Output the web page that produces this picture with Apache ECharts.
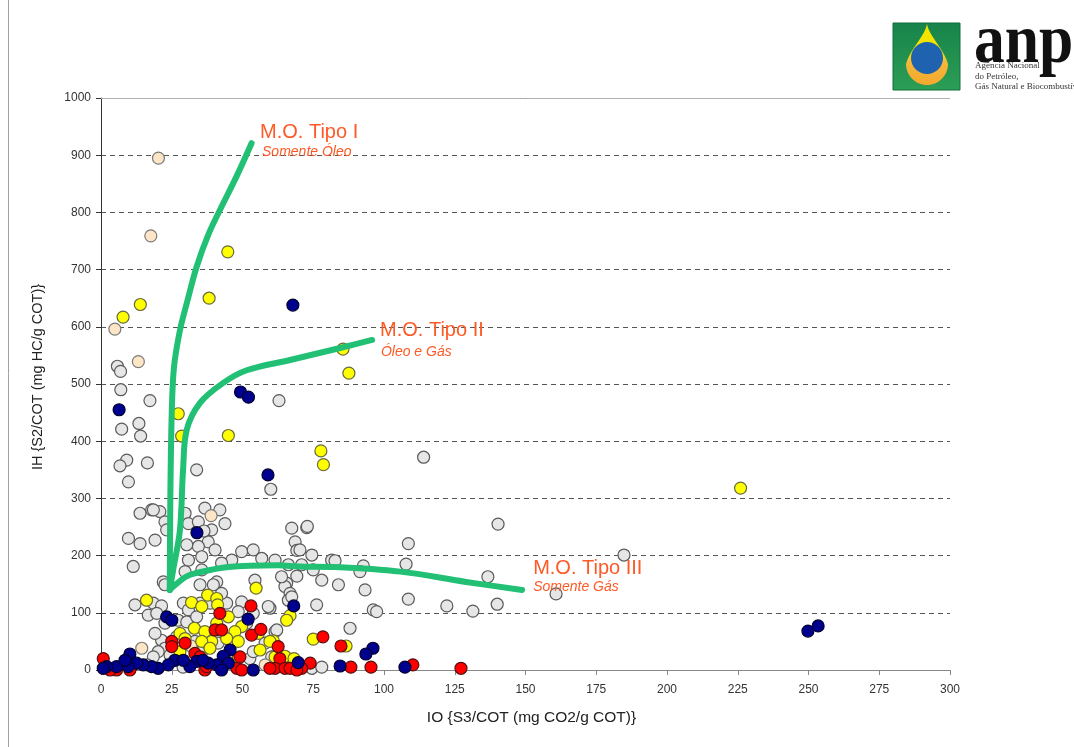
<!DOCTYPE html>
<html>
<head>
<meta charset="utf-8">
<script src="https://cdn.jsdelivr.net/npm/echarts@6.0.0/dist/echarts.min.js"></script>
<style>
  html, body { margin: 0; padding: 0; background: #ffffff; }
  #chart { width: 1074px; height: 747px; }
</style>
</head>
<body>
<div id="chart"></div>
<script>
// Pseudo Van Krevelen diagram: hydrogen index vs oxygen index

const xTicks = { min: 0, max: 300, step: 25 };
const yTicks = { min: 0, max: 1000, step: 100 };

const xTitle = 'IO {S3/COT (mg CO2/g COT)}';
const yTitle = 'IH {S2/COT (mg HC/g COT)}';

// kerogen type evolution paths
const tipoI = [[24.3,140],[24.5,300],[25,450],[25.8,530],[27.9,594],[30.3,641],[33.8,705],[38,762],[42.8,812],[47.9,863],[53.2,921]];
const tipoII = [[24.3,140],[25.5,175],[27.9,245],[29,350],[30.3,420],[35,467],[43.2,502],[51.5,524],[66.8,542],[84.5,563],[95.8,577]];
const tipoIII = [[24.3,140],[26.5,150],[30,163],[33.2,169],[45,180],[62.5,183],[70,181],[82.7,180],[105.7,172],[129,154],[148.8,140]];

const tipoLabels = [
  { title: 'M.O. Tipo I',   sub: 'Somente Óleo', at: [56.2, 940], subAt: [56.9, 906] },
  { title: 'M.O. Tipo II',  sub: 'Óleo e Gás',   at: [98.6, 594], subAt: [98.9, 556] },
  { title: 'M.O. Tipo III', sub: 'Somente Gás',  at: [152.7, 178], subAt: [152.7, 145] }
];

// samples grouped by marker colour
const grayPoints = [
  [5.8,531],[6.9,522],[7,490],[17.3,471],[13.4,431],[14,409],[7.3,421],[9.1,367],[6.7,357],[16.4,362],[9.7,329],[33.8,350],
  [62.9,471],[60,316],[114,372],[140.3,255],[184.8,201],[160.8,133],[140,115],[131.4,103],[136.7,163],
  [13.8,274],[17.9,280],[20.8,277],[22.6,259],[23.2,245],[29.7,274],[30.9,256],[34.4,259],[36.7,283],[42,280],[43.8,256],
  [39.1,245],[37.9,224],[40.3,210],[34.4,216],[35.6,198],[30.9,192],[30.3,219],[9.7,230],[13.8,221],[19.1,227],[11.4,181],
  [49.7,207],[53.8,210],[56.8,195],[61.5,192],[46.2,192],[42.6,187],[67.4,248],[72.7,249],[68.6,224],[69.2,209],[74.5,201],
  [81.5,192],[66.2,184],[69.2,164],[65.6,152],[78,157],[54.4,157],[40.9,154],[35.6,175],[29.7,172],[22,154],
  [72.9,251],[108.6,221],[70.3,210],[82.7,191],[92.7,182],[107.8,185],[70.9,184],[75,175],[91.5,172],[83.9,149],[93.3,140],
  [65,146],[66.8,134],[76.2,114],[66.2,122],[108.6,124],[122.2,112],[96.2,105],[97.4,102],[88,73],[61.5,67],[60.9,23],
  [74.5,3],[78,5],[59.7,108],[12,114],[18.5,117],[21.4,112],[16.7,96],[19.7,99],[29.1,117],[35,117],[30.9,105],[27.3,87],
  [30.3,84],[33.8,93],[38.5,117],[44.4,117],[49.7,119],[48.5,102],[59.1,111],[62.1,70],[58,47],[21.4,52],[22.6,38],[20.2,32],
  [26.1,41],[18.5,23],[24.4,26],[38.5,64],[41.4,47],[46.7,47],[52.6,20],[53.8,32],[60.3,23],[35.6,32],[33.2,50],[27.9,17],
  [51.5,82],[53.8,99],[39.7,149],[22.6,149],[42.6,134],[35,149],[63.8,163],[67.4,128],[26.7,58],[37.3,47],[19.1,64],
  [22.6,82],[16.3,9],[29,5],[18.5,280],[36.4,243]
];

const beigePoints = [[20.3,895],[17.6,759],[4.9,596],[13.2,539],[38.9,270],[14.4,38],[31.8,42],[58,9]];

const yellowPoints = [
  [44.8,731],[38.2,650],[13.9,639],[7.8,617],[27.3,448],[28.5,409],[45,410],[77.7,383],[78.6,359],[85.5,561],[87.6,519],
  [226,318],[54.8,143],[16.1,122],[66.8,95],[65.6,87],[75,54],[86.6,42],[60.9,51],[65,24],[68.2,20],
  [32,118],[37.7,131],[40.9,125],[35.6,111],[41.2,114],[45,93],[40.9,82],[33,73],[36.7,67],[27.9,64],[49.7,76],[47.3,67],
  [44.4,55],[48.5,50],[55.6,64],[39.1,50],[35.6,50],[29.7,55],[27.9,32],[56.2,35],[59.7,50],[61.5,23],[48.5,20],[38.5,38]
];

const redPoints = [
  [53,112],[42,99],[40.3,70],[42.6,70],[53.2,61],[56.5,71],[62.6,41],[63.2,20],[29.7,47],[33.2,29],[25,50],[36.7,0],[48,3],
  [0.8,20],[11.4,9],[49.7,0],[61.5,3],[5.5,0],[78.4,58],[84.8,42],[88.3,5],[95.4,5],[110.2,9],[127.2,3],[73.9,12],[65,3],
  [66.8,3],[70.9,3],[49.1,23],[35,23],[37.3,6],[59.7,3],[69.2,0],[3.2,0],[10.2,0],[25,41]
];

const bluePoints = [
  [67.8,638],[6.4,455],[49.3,486],[52.1,477],[59,341],[33.9,240],[68.1,112],[52,89],[23.2,93],[25,87],[249.8,68],[253.4,77],
  [96.1,38],[93.6,28],[84.5,7],[107.4,5],[10.2,28],[45.6,35],[43.2,24],[45,12],[40.9,9],[37.9,12],[33.8,15],[31.4,6],
  [26.1,17],[23.8,9],[20.2,3],[17.9,6],[14.9,9],[12.6,12],[9.6,6],[5.5,6],[2,6],[0.8,3],[8.5,17],[53.8,0],[29.1,17],
  [36,17],[42.6,0],[69.7,13]
];

const FONT = 'Liberation Sans, Arial, sans-serif';
const SERIF = 'Liberation Serif, Times New Roman, serif';
const ORANGE = '#ff5a26';
const GREEN = '#21c074';

function dots(name, data, fill, border, z) {
  return {
    type: 'scatter', name, data, z,
    symbol: 'circle', symbolSize: 12,
    itemStyle: { color: fill, borderColor: border, borderWidth: 1.2, opacity: 1 },
    silent: true
  };
}
function path(name, data) {
  return {
    type: 'line', name, data, z: 10,
    smooth: 0.35, showSymbol: false, symbol: 'none',
    lineStyle: { color: GREEN, width: 6, cap: 'round', join: 'round' },
    silent: true
  };
}

const chart = echarts.init(document.getElementById('chart'), null, { renderer: 'canvas' });

chart.setOption({
  animation: false,
  backgroundColor: '#ffffff',
  grid: { left: 101, right: 124, top: 98, bottom: 77, containLabel: false },
  xAxis: {
    type: 'value', min: xTicks.min, max: xTicks.max, interval: xTicks.step,
    name: xTitle, nameLocation: 'middle', nameGap: 40,
    nameTextStyle: { fontFamily: FONT, fontSize: 15.5, color: '#222', padding: [0, 0, 0, 12] },
    axisLine: { show: true, onZero: false, lineStyle: { color: '#888', width: 1 } },
    axisTick: { show: true, inside: false, length: 5, lineStyle: { color: '#888' } },
    axisLabel: { fontFamily: FONT, fontSize: 12, color: '#333', margin: 14, formatter: v => String(v) },
    splitLine: { show: false }
  },
  yAxis: {
    type: 'value', min: yTicks.min, max: yTicks.max, interval: yTicks.step,
    name: yTitle, nameLocation: 'middle', nameGap: 56, nameRotate: 90,
    nameTextStyle: { fontFamily: FONT, fontSize: 14.5, color: '#222', padding: [0, 0, 0, 14] },
    axisLine: { show: true, lineStyle: { color: '#333', width: 1 } },
    axisTick: { show: true, inside: false, length: 5, lineStyle: { color: '#333' } },
    axisLabel: { fontFamily: FONT, fontSize: 12, color: '#333', margin: 10, formatter: v => String(v) },
    splitLine: { show: true, lineStyle: { color: '#555', width: 1, type: [5, 4] } }
  },
  series: [
    dots('gray', grayPoints, '#e6e6e6', '#5a5a5a', 2),
    dots('beige', beigePoints, '#fde5c6', '#7a7a7a', 3),
    dots('yellow', yellowPoints, '#ffff00', '#6a6a3a', 4),
    dots('red', redPoints, '#ff0000', '#5a1010', 5),
    dots('blue', bluePoints, '#00008f', '#000030', 6),
    path('M.O. Tipo I', tipoI),
    path('M.O. Tipo II', tipoII),
    path('M.O. Tipo III', tipoIII)
  ]
});

// annotations anchored to data coordinates, plus frame and logo
const graphics = [];
tipoLabels.forEach(t => {
  const p = chart.convertToPixel({ gridIndex: 0 }, t.at);
  const q = chart.convertToPixel({ gridIndex: 0 }, t.subAt);
  graphics.push({
    type: 'text', x: p[0], y: p[1], z: 20,
    style: { text: t.title, fill: ORANGE, font: '20px ' + FONT, textAlign: 'left', textVerticalAlign: 'middle' }
  });
  graphics.push({
    type: 'text', x: q[0], y: q[1], z: 20,
    style: { text: t.sub, fill: ORANGE, font: 'italic 14px ' + FONT, textAlign: 'left', textVerticalAlign: 'middle' }
  });
});

const topL = chart.convertToPixel({ gridIndex: 0 }, [xTicks.min, yTicks.max]);
const topR = chart.convertToPixel({ gridIndex: 0 }, [xTicks.max, yTicks.max]);
graphics.push({
  type: 'line', z: 1,
  shape: { x1: topL[0], y1: topL[1] + 0.5, x2: topR[0], y2: topR[1] + 0.5 },
  style: { stroke: '#b0b0b0', lineWidth: 1 }
});
// page frame
graphics.push({
  type: 'line', z: 1,
  shape: { x1: 8.5, y1: 0, x2: 8.5, y2: 747 },
  style: { stroke: '#a0a0a0', lineWidth: 1 }
});

// agency logo: green tile with a drop
graphics.push({
  type: 'rect', z: 30,
  shape: { x: 893, y: 23, width: 67, height: 67 },
  style: {
    fill: { type: 'linear', x: 0, y: 0, x2: 0, y2: 1, colorStops: [
      { offset: 0, color: '#17834a' }, { offset: 1, color: '#2c9e55' }] },
    stroke: '#0f6e3a', lineWidth: 1
  }
});
const outline = [[927, 24]];
for (let t = 1; t <= 10; t++) {
  const f = t / 10;
  outline.push([927 + 21 * Math.sin(f * Math.PI / 2) * Math.sqrt(f), 24 + (64 - 24) * f]);
}
for (let a = 0; a <= 180; a += 6) {
  const r = a * Math.PI / 180;
  outline.push([927 + 21 * Math.cos(r), 64 + 21 * Math.sin(r)]);
}
for (let t = 10; t >= 1; t--) {
  const f = t / 10;
  outline.push([927 - 21 * Math.sin(f * Math.PI / 2) * Math.sqrt(f), 24 + (64 - 24) * f]);
}
graphics.push({
  type: 'polygon', z: 31,
  shape: { points: outline },
  style: {
    fill: { type: 'linear', x: 0, y: 24, x2: 0, y2: 85, global: true, colorStops: [
      { offset: 0, color: '#f4e600' }, { offset: 0.5, color: '#f4df00' },
      { offset: 0.62, color: '#f5b83a' }, { offset: 1, color: '#f3a92e' }] }
  }
});
graphics.push({
  type: 'circle', z: 32,
  shape: { cx: 927, cy: 58, r: 16 },
  style: { fill: '#1f62b0' }
});
graphics.push({
  type: 'group', z: 30, x: 974, y: 44, scaleX: 0.88, scaleY: 1,
  children: [{
    type: 'text', x: 0, y: 0, z: 30,
    style: { text: 'anp', fill: '#111', font: 'bold 70px ' + SERIF, textAlign: 'left', textVerticalAlign: 'middle' }
  }]
});
['Agência Nacional', 'do Petróleo,', 'Gás Natural e Biocombustíveis'].forEach((s, i) => {
  graphics.push({
    type: 'text', z: 33, x: 975, y: 66 + i * 10.5,
    style: { text: s, fill: '#333', font: '9px ' + SERIF, textAlign: 'left', textVerticalAlign: 'middle' }
  });
});

chart.setOption({ graphic: graphics });
</script>
</body>
</html>
